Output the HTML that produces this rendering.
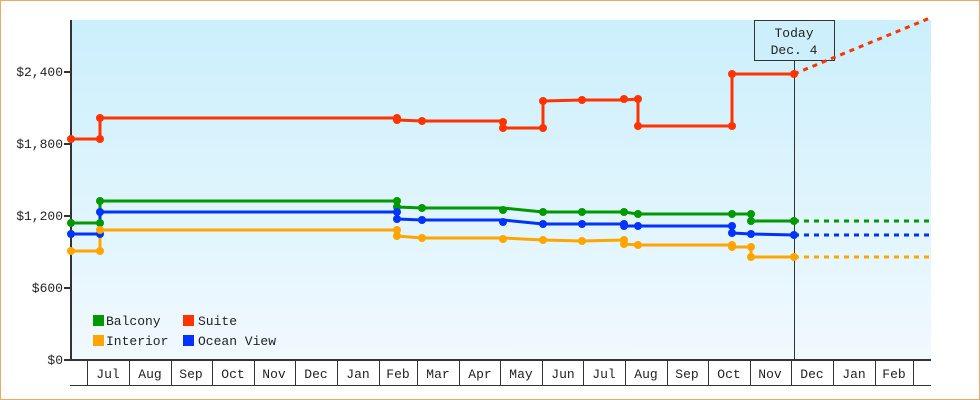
<!DOCTYPE html>
<html><head><style>
body{margin:0;background:#fff}
svg{display:block}
text{font-family:"Liberation Mono","DejaVu Sans Mono",monospace;font-size:13px;fill:#222}
</style></head><body>
<svg width="980" height="400" xmlns="http://www.w3.org/2000/svg">
<defs><linearGradient id="g" x1="0" y1="0" x2="0" y2="1"><stop offset="0" stop-color="#cbeffc"/><stop offset="1" stop-color="#f1f9fe"/></linearGradient></defs>
<rect x="0.5" y="0.5" width="979" height="399" fill="#fff" stroke="#e8aa66"/>
<rect x="71" y="20" width="860" height="340" fill="url(#g)"/>
<g stroke="#333" stroke-width="1" fill="none">
<line x1="70" y1="385.5" x2="931" y2="385.5"/>
<path d="M87.5 360V385M129.5 360V385M171.5 360V385M212.5 360V385M254.5 360V385M295.5 360V385M337.5 360V385M379.5 360V385M417.5 360V385M459.5 360V385M500.5 360V385M542.5 360V385M583.5 360V385M625.5 360V385M667.5 360V385M708.5 360V385M750.5 360V385M791.5 360V385M833.5 360V385M875.5 360V385M913.5 360V385"/>
<line x1="794.5" y1="60" x2="794.5" y2="360"/>
<rect x="754.5" y="20.5" width="80" height="40" fill="#cdeffc"/>
</g>
<line x1="70" y1="360" x2="931" y2="360" stroke="#333" stroke-width="2"/>
<line x1="71" y1="20" x2="71" y2="361" stroke="#333" stroke-width="2"/>
<g stroke="#333" stroke-width="2"><line x1="64" y1="360" x2="71" y2="360"/><line x1="64" y1="288" x2="71" y2="288"/><line x1="64" y1="216" x2="71" y2="216"/><line x1="64" y1="144" x2="71" y2="144"/><line x1="64" y1="72" x2="71" y2="72"/></g>
<g text-anchor="end"><text x="63" y="364">$0</text><text x="63" y="292">$600</text><text x="63" y="220">$1,200</text><text x="63" y="148">$1,800</text><text x="63" y="76">$2,400</text></g>
<g text-anchor="middle">
<text x="108" y="378">Jul</text><text x="150" y="378">Aug</text><text x="191" y="378">Sep</text><text x="233" y="378">Oct</text><text x="274" y="378">Nov</text><text x="316" y="378">Dec</text><text x="358" y="378">Jan</text><text x="398" y="378">Feb</text><text x="438" y="378">Mar</text><text x="480" y="378">Apr</text><text x="521" y="378">May</text><text x="563" y="378">Jun</text><text x="604" y="378">Jul</text><text x="646" y="378">Aug</text><text x="687" y="378">Sep</text><text x="729" y="378">Oct</text><text x="770" y="378">Nov</text><text x="812" y="378">Dec</text><text x="854" y="378">Jan</text><text x="894" y="378">Feb</text>
<text x="794" y="37">Today</text><text x="794" y="54">Dec. 4</text>
</g>
<g fill="none" stroke-width="3" stroke-linejoin="round">
<path stroke="#ff3300" d="M71 139H100V118H397V120L422 121H503V128H543V101L582 100H624L638 99V126H732V74H794"/>
<path stroke="#009900" d="M71 223H100V201H397V207L422 208H503L543 212H624L638 214H751V221H794"/>
<path stroke="#0033ff" d="M71 234H100V212H397V219L422 220H503L543 224H624V226H732V233L751 234L794 235"/>
<path stroke="#ffa500" d="M71 251H100V230H397V236L422 238H503L543 240L582 241L624 240V244L638 245H732V247H751V257H794"/>
<g stroke-dasharray="5,5">
<path stroke="#ff3300" d="M794 74L930 18"/>
<path stroke="#009900" d="M794 221H930"/>
<path stroke="#0033ff" d="M794 235H930"/>
<path stroke="#ffa500" d="M794 257H930"/>
</g></g>
<g fill="#ff3300"><circle cx="71" cy="139" r="4"/><circle cx="100" cy="139" r="4"/><circle cx="100" cy="118" r="4"/><circle cx="397" cy="118" r="4"/><circle cx="397" cy="120" r="4"/><circle cx="422" cy="121" r="4"/><circle cx="503" cy="122" r="4"/><circle cx="503" cy="128" r="4"/><circle cx="543" cy="128" r="4"/><circle cx="543" cy="101" r="4"/><circle cx="582" cy="100" r="4"/><circle cx="624" cy="99" r="4"/><circle cx="638" cy="99" r="4"/><circle cx="638" cy="126" r="4"/><circle cx="732" cy="126" r="4"/><circle cx="732" cy="74" r="4"/><circle cx="794" cy="74" r="4"/></g>
<g fill="#009900"><circle cx="71" cy="223" r="4"/><circle cx="100" cy="223" r="4"/><circle cx="100" cy="201" r="4"/><circle cx="397" cy="201" r="4"/><circle cx="397" cy="207" r="4"/><circle cx="422" cy="208" r="4"/><circle cx="503" cy="210" r="4"/><circle cx="543" cy="212" r="4"/><circle cx="582" cy="212" r="4"/><circle cx="624" cy="212" r="4"/><circle cx="638" cy="214" r="4"/><circle cx="732" cy="214" r="4"/><circle cx="751" cy="214" r="4"/><circle cx="751" cy="221" r="4"/><circle cx="794" cy="221" r="4"/></g>
<g fill="#0033ff"><circle cx="71" cy="234" r="4"/><circle cx="100" cy="234" r="4"/><circle cx="100" cy="212" r="4"/><circle cx="397" cy="212" r="4"/><circle cx="397" cy="219" r="4"/><circle cx="422" cy="220" r="4"/><circle cx="503" cy="222" r="4"/><circle cx="543" cy="224" r="4"/><circle cx="582" cy="224" r="4"/><circle cx="624" cy="224" r="4"/><circle cx="624" cy="226" r="4"/><circle cx="638" cy="226" r="4"/><circle cx="732" cy="226" r="4"/><circle cx="732" cy="233" r="4"/><circle cx="751" cy="234" r="4"/><circle cx="794" cy="235" r="4"/></g>
<g fill="#ffa500"><circle cx="71" cy="251" r="4"/><circle cx="100" cy="251" r="4"/><circle cx="100" cy="230" r="4"/><circle cx="397" cy="230" r="4"/><circle cx="397" cy="236" r="4"/><circle cx="422" cy="238" r="4"/><circle cx="503" cy="239" r="4"/><circle cx="543" cy="240" r="4"/><circle cx="582" cy="241" r="4"/><circle cx="624" cy="240" r="4"/><circle cx="624" cy="244" r="4"/><circle cx="638" cy="245" r="4"/><circle cx="732" cy="245" r="4"/><circle cx="732" cy="247" r="4"/><circle cx="751" cy="247" r="4"/><circle cx="751" cy="257" r="4"/><circle cx="794" cy="257" r="4"/></g>
<rect x="93" y="315" width="11" height="11" fill="#009900"/><text x="106" y="325">Balcony</text>
<rect x="183" y="315" width="11" height="11" fill="#ff3300"/><text x="198" y="325">Suite</text>
<rect x="93" y="335" width="11" height="11" fill="#ffa500"/><text x="106" y="345">Interior</text>
<rect x="183" y="335" width="11" height="11" fill="#0033ff"/><text x="198" y="345">Ocean View</text>
</svg>
</body></html>
